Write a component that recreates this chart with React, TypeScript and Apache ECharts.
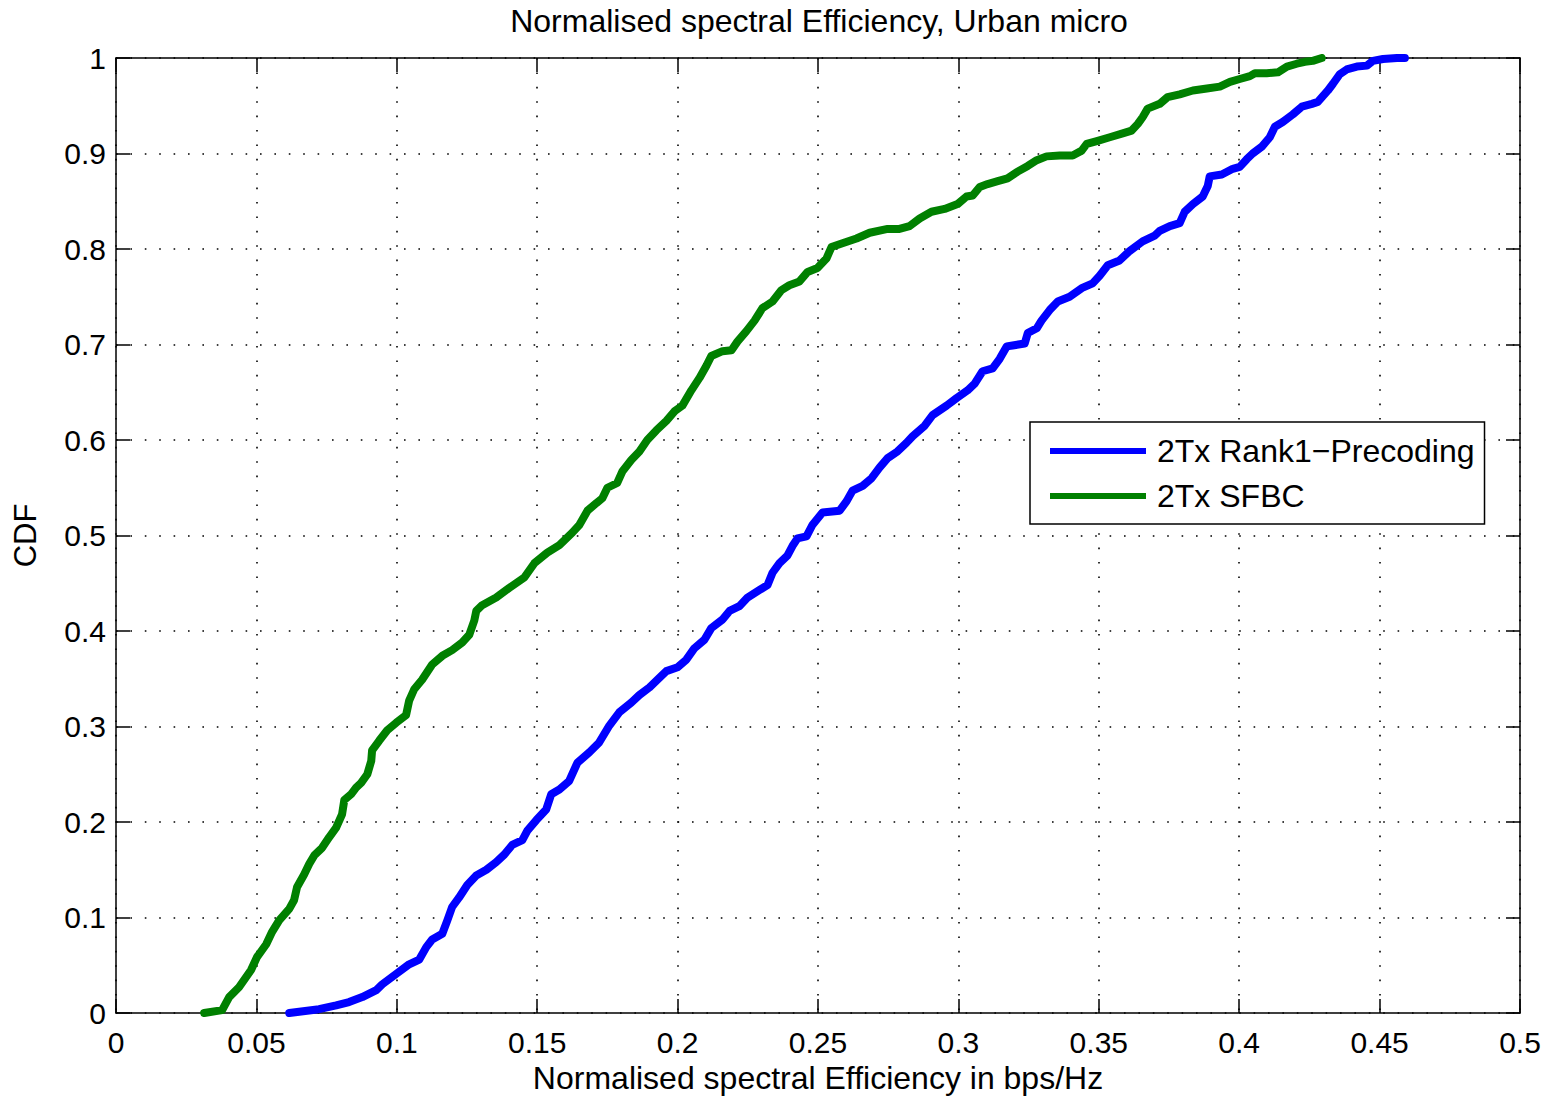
import React, { useEffect, useRef } from "react";
import * as echarts from "echarts";

const chartTitle = "Normalised spectral Efficiency, Urban micro";
const xAxisName = "Normalised spectral Efficiency in bps/Hz";
const yAxisName = "CDF";
const seriesNames = ["2Tx Rank1\u2212Precoding", "2Tx SFBC"];

const rank1X = [
  0.0617, 0.0723, 0.0784, 0.083, 0.0877, 0.0927, 0.0948, 0.0998, 0.1044, 0.108,
  0.1105, 0.1126, 0.1162, 0.118, 0.1197, 0.1222, 0.1251, 0.1283, 0.1319, 0.1354,
  0.1383, 0.1411, 0.1447, 0.1465, 0.1497, 0.1532, 0.155, 0.1579, 0.1614, 0.1643,
  0.1686, 0.172, 0.1757, 0.1793, 0.1835, 0.1864, 0.19, 0.1935, 0.196, 0.2,
  0.2031, 0.206, 0.2096, 0.212, 0.216, 0.2185, 0.222, 0.2249, 0.2292, 0.232,
  0.2338, 0.2363, 0.2391, 0.2409, 0.2427, 0.2459, 0.248, 0.2516, 0.2577, 0.2602,
  0.2623, 0.2659, 0.2691, 0.2719, 0.2748, 0.2783, 0.2815, 0.2837, 0.288, 0.2908,
  0.2958, 0.2994, 0.3033, 0.3058, 0.3086, 0.3122, 0.3147, 0.3172, 0.3193, 0.3236,
  0.3247, 0.3279, 0.3296, 0.3325, 0.3354, 0.3396, 0.3439, 0.3478, 0.3503, 0.3532,
  0.3574, 0.361, 0.3656, 0.3699, 0.3717, 0.3753, 0.3788, 0.3806, 0.3835, 0.387,
  0.3888, 0.3895, 0.3938, 0.3977, 0.4002, 0.4027, 0.4048, 0.408, 0.4109, 0.4127,
  0.4155, 0.4191, 0.4223, 0.4259, 0.428, 0.4298, 0.4316, 0.4334, 0.4358, 0.4383,
  0.4419, 0.4455, 0.4476, 0.4512, 0.4562, 0.459,
];
const rank1Y = [
  0, 0.004, 0.008, 0.0115, 0.0167, 0.024, 0.03, 0.041, 0.051, 0.056,
  0.069, 0.077, 0.083, 0.097, 0.111, 0.121, 0.134, 0.144, 0.15, 0.158,
  0.166, 0.176, 0.181, 0.191, 0.202, 0.213, 0.229, 0.234, 0.243, 0.262,
  0.273, 0.283, 0.301, 0.315, 0.325, 0.333, 0.341, 0.351, 0.358, 0.362,
  0.37, 0.382, 0.391, 0.403, 0.412, 0.421, 0.426, 0.435, 0.443, 0.448,
  0.461, 0.471, 0.479, 0.489, 0.497, 0.499, 0.511, 0.524, 0.526, 0.536,
  0.547, 0.552, 0.56, 0.571, 0.581, 0.588, 0.597, 0.604, 0.615, 0.626,
  0.636, 0.644, 0.652, 0.659, 0.672, 0.675, 0.685, 0.698, 0.699, 0.701,
  0.712, 0.717, 0.725, 0.736, 0.745, 0.75, 0.759, 0.764, 0.772, 0.783,
  0.788, 0.798, 0.808, 0.814, 0.819, 0.824, 0.827, 0.839, 0.847, 0.855,
  0.866, 0.876, 0.878, 0.884, 0.886, 0.894, 0.9, 0.907, 0.917, 0.928,
  0.933, 0.941, 0.949, 0.952, 0.954, 0.96, 0.966, 0.973, 0.983, 0.988,
  0.991, 0.992, 0.997, 0.999, 1.0, 1.0,
];

const sfbcX = [
  0.0314, 0.0378, 0.0403, 0.0438, 0.0481, 0.0502, 0.0535, 0.0556, 0.0581, 0.0617,
  0.0634, 0.0645, 0.067, 0.0688, 0.0706, 0.0734, 0.0759, 0.0784, 0.0805, 0.0813,
  0.0837, 0.0855, 0.0873, 0.0895, 0.0909, 0.0912, 0.0937, 0.0966, 0.0998, 0.1033,
  0.1044, 0.1062, 0.109, 0.1126, 0.1162, 0.1197, 0.1233, 0.1258, 0.1276, 0.1283,
  0.1304, 0.1354, 0.14, 0.1454, 0.149, 0.1536, 0.1579, 0.1625, 0.165, 0.1679,
  0.1711, 0.1732, 0.175, 0.1785, 0.1803, 0.1835, 0.1864, 0.1892, 0.1924, 0.196,
  0.1989, 0.2017, 0.2049, 0.2078, 0.2103, 0.212, 0.216, 0.2192, 0.2213, 0.2245,
  0.2274, 0.2302, 0.2338, 0.237, 0.2398, 0.2434, 0.2463, 0.2498, 0.253, 0.2548,
  0.2587, 0.2637, 0.2684, 0.2748, 0.279, 0.2826, 0.2862, 0.2904, 0.2951, 0.2997,
  0.3029, 0.3051, 0.3076, 0.3104, 0.314, 0.3175, 0.3211, 0.3247, 0.3279, 0.3314,
  0.3361, 0.3407, 0.3439, 0.3457, 0.3493, 0.3539, 0.3585, 0.3617, 0.3639, 0.3656,
  0.3674, 0.3717, 0.3745, 0.3788, 0.3835, 0.3885, 0.3931, 0.3967, 0.4002, 0.4038,
  0.4056, 0.4098, 0.4138, 0.417, 0.4205, 0.4234, 0.4262, 0.4294,
];
const sfbcY = [
  0, 0.003, 0.0167, 0.027, 0.045, 0.0585, 0.072, 0.085, 0.097, 0.109,
  0.118, 0.132, 0.145, 0.156, 0.165, 0.173, 0.184, 0.194, 0.208, 0.223,
  0.229, 0.236, 0.241, 0.25, 0.264, 0.275, 0.285, 0.296, 0.304, 0.312,
  0.327, 0.339, 0.349, 0.365, 0.374, 0.38, 0.388, 0.396, 0.411, 0.421,
  0.427, 0.435, 0.445, 0.456, 0.471, 0.482, 0.49, 0.503, 0.511, 0.526,
  0.534, 0.539, 0.55, 0.555, 0.567, 0.579, 0.588, 0.6, 0.61, 0.62,
  0.63, 0.636, 0.652, 0.665, 0.678, 0.688, 0.693, 0.694, 0.703, 0.714,
  0.725, 0.738, 0.745, 0.757, 0.762, 0.766, 0.776, 0.78, 0.79, 0.802,
  0.806, 0.811, 0.817, 0.821, 0.821, 0.824, 0.832, 0.839, 0.842, 0.847,
  0.855, 0.856, 0.865, 0.868, 0.871, 0.874, 0.881, 0.887, 0.893, 0.897,
  0.898, 0.898, 0.903, 0.91, 0.913, 0.917, 0.921, 0.924, 0.931, 0.938,
  0.947, 0.952, 0.959, 0.962, 0.966, 0.968, 0.97, 0.975, 0.978, 0.981,
  0.984, 0.984, 0.985, 0.991, 0.994, 0.996, 0.997, 1.0,
];

const xMin = 0, xMax = 0.5, xStep = 0.05;
const yMin = 0, yMax = 1, yStep = 0.1;

const FONT = "Liberation Sans, Arial, Helvetica, sans-serif";

function zip(xs: number[], ys: number[]) {
  return xs.map((x, i) => [x, ys[i]]);
}

export default function App() {
  const ref = useRef<HTMLDivElement>(null);
  useEffect(() => {
    document.body.style.margin = "0";
    const chart = echarts.init(ref.current!, null, { renderer: "svg" });
    const gridLeft = 116, gridTop = 58, gridRight = 32, gridBottom = 83;
    const axisLineStyle = { color: "#000", width: 1.5 };
    const tick = { show: true, inside: true, length: 14, lineStyle: { color: "#000", width: 1.5 } };
    const dotted = { show: true, lineStyle: { color: "#000", width: 1.6, type: [1.6, 12.8] as any } };
    const fmt = (v: number) => String(+v.toFixed(2));
    chart.setOption({
      animation: false,
      backgroundColor: "#fff",
      textStyle: { fontFamily: FONT },
      grid: { left: gridLeft, top: gridTop, right: gridRight, bottom: gridBottom, containLabel: false },
      graphic: [
        {
          type: "text",
          x: 819,
          y: 21,
          style: {
            text: chartTitle,
            fill: "#000",
            font: `32px ${FONT}`,
            textAlign: "center",
            textVerticalAlign: "middle",
          },
        },
      ],
      legend: {
        orient: "vertical",
        left: 1030,
        top: 422,
        padding: [13, 10, 12, 20],
        itemGap: 13,
        itemWidth: 96,
        itemHeight: 6,
        icon: "rect",
        backgroundColor: "#fff",
        borderColor: "#000",
        borderWidth: 1.5,
        borderRadius: 0,
        textStyle: { fontFamily: FONT, fontSize: 32, color: "#000", padding: [0, 0, 0, 6] },
        data: seriesNames,
      },
      xAxis: [
        {
          type: "value",
          position: "bottom",
          min: xMin,
          max: xMax,
          interval: xStep,
          name: xAxisName,
          nameLocation: "middle",
          nameGap: 49,
          nameTextStyle: { fontFamily: FONT, fontSize: 32, color: "#000" },
          axisLine: { show: true, onZero: false, lineStyle: axisLineStyle },
          axisTick: tick,
          axisLabel: { show: true, color: "#000", fontFamily: FONT, fontSize: 30, margin: 14, formatter: fmt },
          splitLine: dotted,
        },
        {
          type: "value",
          position: "top",
          min: xMin,
          max: xMax,
          interval: xStep,
          axisLine: { show: true, onZero: false, lineStyle: axisLineStyle },
          axisTick: tick,
          axisLabel: { show: false },
          splitLine: { show: false },
        },
      ],
      yAxis: [
        {
          type: "value",
          position: "left",
          min: yMin,
          max: yMax,
          interval: yStep,
          name: yAxisName,
          nameLocation: "middle",
          nameGap: 75,
          nameRotate: 90,
          nameTextStyle: { fontFamily: FONT, fontSize: 31, color: "#000" },
          axisLine: { show: true, onZero: false, lineStyle: axisLineStyle },
          axisTick: tick,
          axisLabel: { show: true, color: "#000", fontFamily: FONT, fontSize: 30, margin: 10, formatter: fmt },
          splitLine: dotted,
        },
        {
          type: "value",
          position: "right",
          min: yMin,
          max: yMax,
          interval: yStep,
          axisLine: { show: true, onZero: false, lineStyle: axisLineStyle },
          axisTick: tick,
          axisLabel: { show: false },
          splitLine: { show: false },
        },
      ],
      series: [
        {
          name: seriesNames[0],
          type: "line",
          data: zip(rank1X, rank1Y),
          showSymbol: false,
          symbol: "none",
          color: "#0000ff",
          lineStyle: { color: "#0000ff", width: 8, join: "round", cap: "round" },
          z: 3,
        },
        {
          name: seriesNames[1],
          type: "line",
          data: zip(sfbcX, sfbcY),
          showSymbol: false,
          symbol: "none",
          color: "#008000",
          lineStyle: { color: "#008000", width: 8, join: "round", cap: "round" },
          z: 3,
        },
      ],
    });
    return () => chart.dispose();
  }, []);
  return <div ref={ref} style={{ width: 1552, height: 1099 }} />;
}
